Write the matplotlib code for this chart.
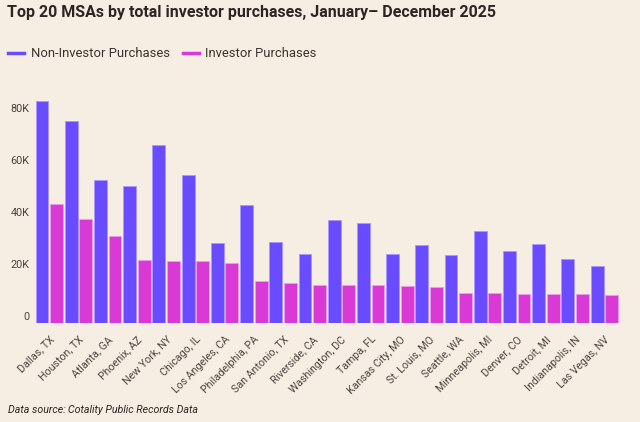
import numpy as np
import matplotlib.pyplot as plt

# MSAs and purchase counts
msas = ['Dallas, TX', 'Houston, TX', 'Atlanta, GA', 'Phoenix, AZ', 'New York, NY',
        'Chicago, IL', 'Los Angeles, CA', 'Philadelphia, PA', 'San Antonio, TX',
        'Riverside, CA', 'Washington, DC', 'Tampa, FL', 'Kansas City, MO',
        'St. Louis, MO', 'Seattle, WA', 'Minneapolis, MI', 'Denver, CO',
        'Detroit, MI', 'Indianapolis, IN', 'Las Vegas, NV']
non_investor = [85900, 77900, 55200, 52800, 68700, 57100, 30900, 45700, 31200, 26800,
                39700, 38600, 26800, 30100, 26200, 35700, 27800, 30600, 24700, 22100]
investor = [45900, 40300, 33700, 24400, 24100, 24000, 23400, 16300, 15700, 14800,
            14700, 14600, 14300, 13900, 11800, 11600, 11300, 11300, 11200, 10900]
yticks = [0, 20000, 40000, 60000, 80000]
ytick_labels = ['0', '20K', '40K', '60K', '80K']

bg = '#F6EEE2'
blue = '#694CFF'
magenta = '#D93AD5'
text_col = '#2b2622'

plt.rcParams['font.family'] = ['Roboto', 'DejaVu Sans']

fig = plt.figure(figsize=(6.4, 4.22), dpi=100, facecolor=bg)
ax = fig.add_axes([34.7 / 640, 1 - 323.3 / 422, (619 - 34.7) / 640, (323.3 - 90) / 422])
ax.set_facecolor(bg)

x = np.arange(len(msas))
w = 0.44
ax.bar(x - 0.25, non_investor, width=w, color=blue, edgecolor='#A899FF', linewidth=0.6)
ax.bar(x + 0.25, investor, width=w, color=magenta, edgecolor='#EE9BEA', linewidth=0.6)

ax.set_xlim(-0.5, len(msas) - 0.5)
ax.set_ylim(0, 90000)
for s in ax.spines.values():
    s.set_visible(False)

ax.set_yticks(yticks)
ax.set_yticklabels([])
ax.tick_params(axis='both', length=0)
for v, lab in zip(yticks, ytick_labels):
    ax.annotate(lab, xy=(0, v), xycoords=('axes fraction', 'data'),
                xytext=(-5, 6.5), textcoords='offset pixels',
                ha='right', va='center', fontsize=7.8, color='#4a443f')

ax.set_xticks(x)
ax.set_xticklabels(msas, rotation=45, ha='right', rotation_mode='anchor',
                   fontsize=7.7, color='#4a443f')
ax.tick_params(axis='x', pad=8)

fig.text(7 / 640, 1 - 12.5 / 422,
         'Top 20 MSAs by total investor purchases, January\u2013 December 2025',
         fontsize=11.5, fontweight='bold', color=text_col, va='center', ha='left')

# legend drawn by hand to match the line-swatch style
fig.add_artist(plt.Line2D([8 / 640, 24 / 640], [1 - 53.3 / 422] * 2, color=blue, lw=2.5))
fig.text(31 / 640, 1 - 53.3 / 422, 'Non-Investor Purchases', fontsize=9.4,
         color='#3a3430', va='center', ha='left')
fig.add_artist(plt.Line2D([183 / 640, 199 / 640], [1 - 53.3 / 422] * 2, color=magenta, lw=2.5))
fig.text(205 / 640, 1 - 53.3 / 422, 'Investor Purchases', fontsize=9.4,
         color='#3a3430', va='center', ha='left')

fig.text(8 / 640, 1 - 410 / 422, 'Data source:\u2009Cotality Public Records Data',
         fontsize=7.7, style='italic', color=text_col, va='center', ha='left')

fig.savefig('out.png', dpi=100, facecolor=bg)
